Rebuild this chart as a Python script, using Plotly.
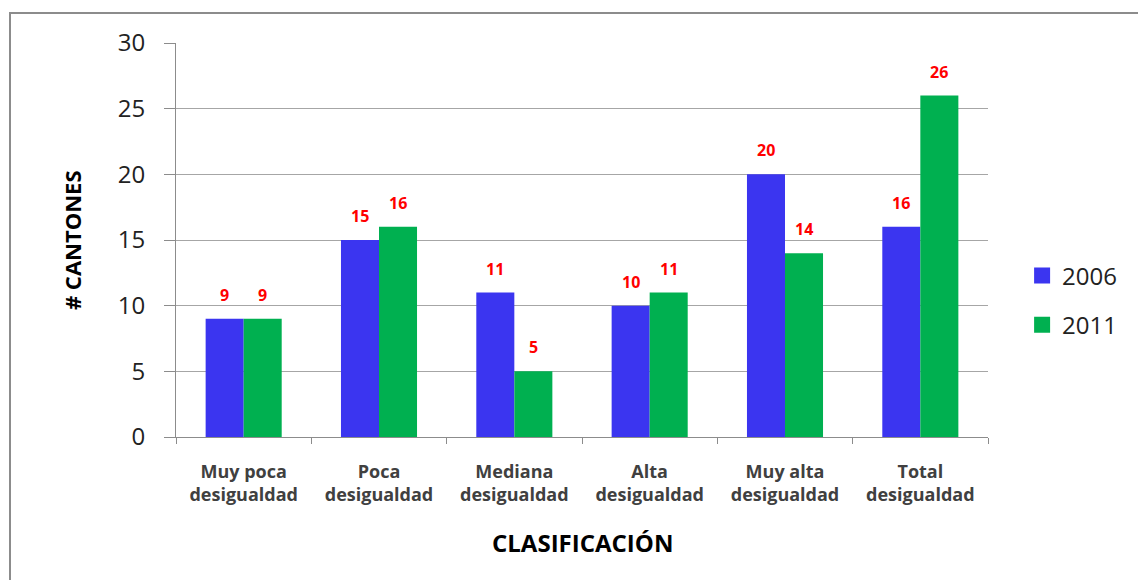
import plotly.graph_objects as go

categories = ["Muy poca<br>desigualdad", "Poca<br>desigualdad", "Mediana<br>desigualdad",
              "Alta<br>desigualdad", "Muy alta<br>desigualdad", "Total<br>desigualdad"]
values_2006 = [9, 15, 11, 10, 20, 16]
values_2011 = [9, 16, 5, 11, 14, 26]
y_ticks = [0, 5, 10, 15, 20, 25, 30]

BLUE = "#3B35F0"
GREEN = "#00B050"
FONT = "Open Sans"

fig = go.Figure()
fig.add_trace(go.Bar(x=categories, y=values_2006, name="2006", marker_color=BLUE,
                     marker_line_width=0, showlegend=False))
fig.add_trace(go.Bar(x=categories, y=values_2011, name="2011", marker_color=GREEN,
                     marker_line_width=0, showlegend=False))
# legend entries with larger square swatches
for name, col, lg in (("2006", BLUE, "legend"), ("2011", GREEN, "legend2")):
    fig.add_trace(go.Scatter(x=[None], y=[None], mode="markers", name=name,
                             marker=dict(symbol="square", size=18, color=col),
                             legend=lg, showlegend=True))

annotations = []
for vals, shift in ((values_2006, -19), (values_2011, 19)):
    for c, v in zip(categories, vals):
        annotations.append(dict(x=c, y=v, xref="x", yref="y", text=str(v), showarrow=False,
                                xshift=shift, yshift=11, yanchor="bottom", xanchor="center",
                                font=dict(family=FONT, size=16, color="#FF0000", weight="bold")))

annotations.append(dict(x=-0.128, y=0.5, xref="paper", yref="paper", text="# CANTONES",
                        textangle=-90, showarrow=False, xanchor="center", yanchor="middle",
                        font=dict(family=FONT, size=22, color="#000000", weight="bold")))
annotations.append(dict(x=0.5, y=-0.269, xref="paper", yref="paper", text="CLASIFICACIÓN",
                        showarrow=False, xanchor="center", yanchor="middle",
                        font=dict(family=FONT, size=24, color="#000000", weight="bold")))

# window offset 8px (page body margin) accounted for in margins
fig.update_layout(
    width=1146, height=580,
    margin=dict(l=168, r=166, t=35, b=151),
    paper_bgcolor="white", plot_bgcolor="white",
    barmode="group", bargap=0.438, bargroupgap=0,
    showlegend=True,
    font=dict(family=FONT, color="#222222"),
    annotations=annotations,
    legend=dict(x=1.042, y=0.409, xanchor="left", yanchor="middle", itemsizing="trace",
                font=dict(family=FONT, size=24, color="#222222"), bgcolor="rgba(0,0,0,0)"),
    legend2=dict(x=1.042, y=0.284, xanchor="left", yanchor="middle", itemsizing="trace",
                 font=dict(family=FONT, size=24, color="#222222"), bgcolor="rgba(0,0,0,0)"),
    shapes=[dict(type="rect", xref="paper", yref="paper",
                 x0=(10 - 176) / 812, x1=(1160 - 176) / 812,
                 y0=(437 - 600) / 394, y1=1 + (43 - 13) / 394,
                 line=dict(color="#8C8C8C", width=2), layer="below")],
)

fig.update_xaxes(type="category", tickson="boundaries", ticks="outside", ticklen=6,
                 tickcolor="#8C8C8C", showline=True, linecolor="#8C8C8C", linewidth=1,
                 tickfont=dict(family=FONT, size=18, color="#404040", weight="bold"),
                 ticklabelstandoff=18, showgrid=False)
fig.update_yaxes(range=[0, 30], tickvals=y_ticks, ticks="outside", ticklen=11,
                 tickcolor="#8C8C8C", showline=True, linecolor="#8C8C8C", linewidth=1,
                 gridcolor="#A6A6A6", gridwidth=1, zeroline=False,
                 tickfont=dict(family=FONT, size=24, color="#222222"),
                 ticklabelstandoff=14)

fig.write_html("out.html")
